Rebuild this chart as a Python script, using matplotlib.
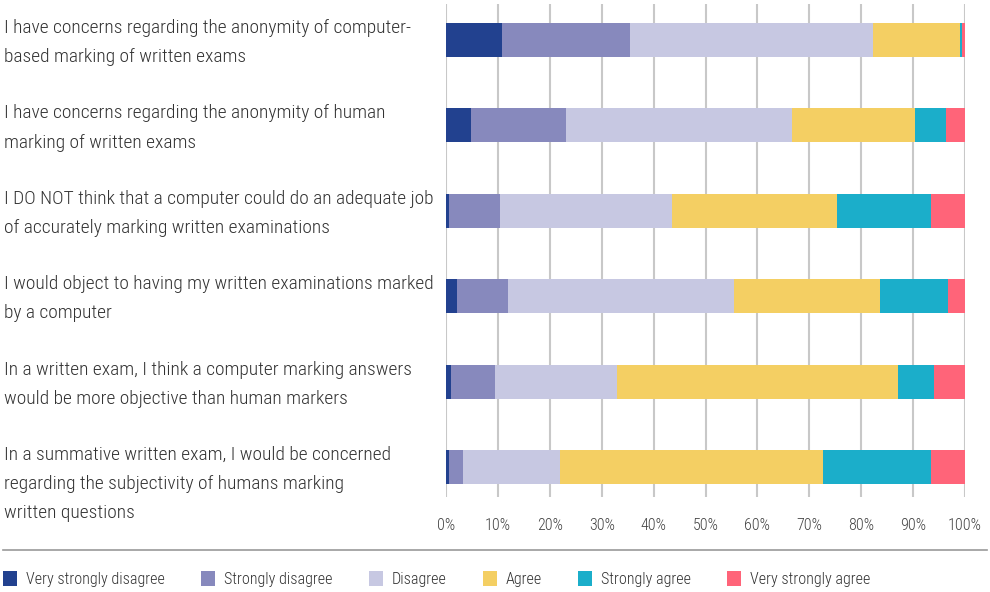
import numpy as np
import matplotlib.pyplot as plt
from matplotlib.patches import Patch
from matplotlib.lines import Line2D

plt.rcParams['font.family'] = ['Roboto Condensed', 'Liberation Sans Narrow', 'Roboto', 'DejaVu Sans']
plt.rcParams['font.weight'] = 'light'

statements = [
    "I have concerns regarding the anonymity of computer-\nbased marking of written exams",
    "I have concerns regarding the anonymity of human\nmarking of written exams",
    "I DO NOT think that a computer could do an adequate job\nof accurately marking written examinations",
    "I would object to having my written examinations marked\nby a computer",
    "In a written exam, I think a computer marking answers\nwould be more objective than human markers",
    "In a summative written exam, I would be concerned\nregarding the subjectivity of humans marking\nwritten questions",
]
responses = ["Very strongly disagree", "Strongly disagree", "Disagree",
             "Agree", "Strongly agree", "Very strongly agree"]
colors = ["#22418F", "#8789BD", "#C7C8E2", "#F4CF63", "#1BAECA", "#FF6479"]

very_strongly_disagree = [10.8, 4.8, 0.55, 2.1, 1.0, 0.55]
strongly_disagree = [24.6, 18.3, 9.85, 9.8, 8.4, 2.65]
disagree = [46.8, 43.5, 33.2, 43.6, 23.6, 18.7]
agree = [16.8, 23.8, 31.8, 28.1, 54.1, 50.7]
strongly_agree = [0.45, 6.0, 18.1, 13.1, 6.9, 20.9]
very_strongly_agree = [0.55, 3.6, 6.5, 3.3, 6.0, 6.5]
series = [very_strongly_disagree, strongly_disagree, disagree,
          agree, strongly_agree, very_strongly_agree]

fig = plt.figure(figsize=(9.9, 5.92), dpi=100)
ax = fig.add_axes([446 / 990, 1 - 497 / 592, 519 / 990, 493 / 592])

y = np.arange(len(statements))
left = np.zeros(len(statements))
for vals, col, name in zip(series, colors, responses):
    ax.barh(y, vals, left=left, height=0.4, color=col, label=name, zorder=3)
    left += np.array(vals)

ax.set_xlim(0, 100)
ax.set_ylim(5.35, -0.42)
ax.set_xticks(np.arange(0, 101, 10))
ax.set_xticklabels([f"{v}%" for v in range(0, 101, 10)], fontsize=11.5, color="#444444")
ax.set_yticks([])
ax.tick_params(axis="x", length=0, pad=15)
ax.grid(axis="x", color="#c8c8c8", linewidth=1.5, zorder=0)
for s in ax.spines.values():
    s.set_visible(False)

# statement labels, top-aligned a little above each bar
for i, txt in enumerate(statements):
    ax.annotate(txt, xy=(0, i), xycoords=("figure fraction", "data"),
                xytext=(4, 21), textcoords="offset pixels",
                ha="left", va="top", fontsize=14, color="#333333",
                linespacing=1.8)

fig.add_artist(Line2D([3 / 990, 987 / 990], [1 - 550 / 592] * 2,
                      color="#999999", linewidth=1.2))

handles = [Patch(facecolor=c, label=r) for c, r in zip(colors, responses)]
fig.legend(handles=handles, ncol=6, loc="center left",
           bbox_to_anchor=(0, 1 - 579 / 592), frameon=False,
           handlelength=0.85, handleheight=1.1, handletextpad=0.55,
           columnspacing=2.27, fontsize=11.6, labelcolor="#333333",
           borderaxespad=0, borderpad=0.2)

fig.savefig("out.png", dpi=100)
